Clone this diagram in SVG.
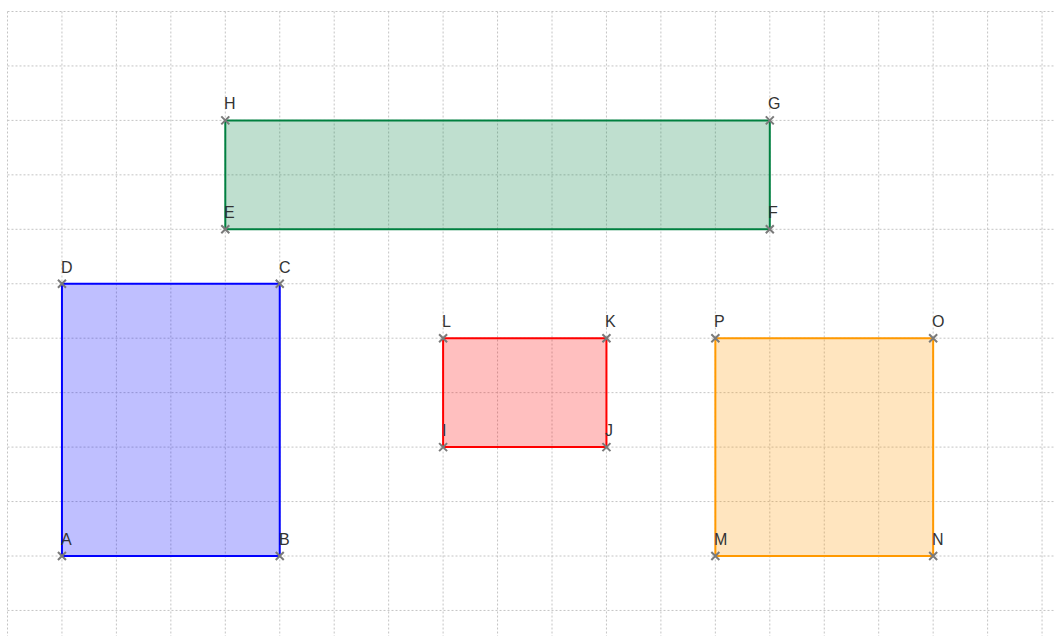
<svg xmlns="http://www.w3.org/2000/svg" width="1054" height="636" viewBox="0 0 1054 636">
<style>
.grid line{stroke:#c4c4c4;stroke-width:1;stroke-dasharray:2,2}
.lbl{font-family:"Liberation Sans",Arial,sans-serif;font-size:16px;fill:#333}
.pt{stroke:#7a7a7a;stroke-width:2;fill:none}
.blue{fill:#0000ff;fill-opacity:0.25;stroke:#0000ff;stroke-width:2}
.green{fill:#008040;fill-opacity:0.25;stroke:#008040;stroke-width:2}
.red{fill:#ff0000;fill-opacity:0.25;stroke:#ff0000;stroke-width:2}
.orange{fill:#ff9900;fill-opacity:0.25;stroke:#ff9900;stroke-width:2}
</style>
<defs>
<path id="x" d="M-4,-4L4,4M-4,4L4,-4" class="pt"/>
</defs>
<rect width="1054" height="636" fill="#fff"/>
<g class="grid">
<line x1="7.5" y1="11.5" x2="7.5" y2="636"/>
<line x1="61.95" y1="11.5" x2="61.95" y2="636"/>
<line x1="116.4" y1="11.5" x2="116.4" y2="636"/>
<line x1="170.85" y1="11.5" x2="170.85" y2="636"/>
<line x1="225.3" y1="11.5" x2="225.3" y2="636"/>
<line x1="279.75" y1="11.5" x2="279.75" y2="636"/>
<line x1="334.2" y1="11.5" x2="334.2" y2="636"/>
<line x1="388.65" y1="11.5" x2="388.65" y2="636"/>
<line x1="443.1" y1="11.5" x2="443.1" y2="636"/>
<line x1="497.55" y1="11.5" x2="497.55" y2="636"/>
<line x1="552" y1="11.5" x2="552" y2="636"/>
<line x1="606.45" y1="11.5" x2="606.45" y2="636"/>
<line x1="660.9" y1="11.5" x2="660.9" y2="636"/>
<line x1="715.35" y1="11.5" x2="715.35" y2="636"/>
<line x1="769.8" y1="11.5" x2="769.8" y2="636"/>
<line x1="824.25" y1="11.5" x2="824.25" y2="636"/>
<line x1="878.7" y1="11.5" x2="878.7" y2="636"/>
<line x1="933.15" y1="11.5" x2="933.15" y2="636"/>
<line x1="987.6" y1="11.5" x2="987.6" y2="636"/>
<line x1="1042.05" y1="11.5" x2="1042.05" y2="636"/>
<line x1="7.5" y1="11.5" x2="1054" y2="11.5"/>
<line x1="7.5" y1="65.95" x2="1054" y2="65.95"/>
<line x1="7.5" y1="120.4" x2="1054" y2="120.4"/>
<line x1="7.5" y1="174.85" x2="1054" y2="174.85"/>
<line x1="7.5" y1="229.3" x2="1054" y2="229.3"/>
<line x1="7.5" y1="283.75" x2="1054" y2="283.75"/>
<line x1="7.5" y1="338.2" x2="1054" y2="338.2"/>
<line x1="7.5" y1="392.65" x2="1054" y2="392.65"/>
<line x1="7.5" y1="447.1" x2="1054" y2="447.1"/>
<line x1="7.5" y1="501.55" x2="1054" y2="501.55"/>
<line x1="7.5" y1="556" x2="1054" y2="556"/>
<line x1="7.5" y1="610.45" x2="1054" y2="610.45"/>
</g>
<g id="rect-ABCD">
<polygon class="blue" points="61.95,556 279.75,556 279.75,283.75 61.95,283.75"/>
<use href="#x" x="61.95" y="556"/><use href="#x" x="279.75" y="556"/><use href="#x" x="279.75" y="283.75"/><use href="#x" x="61.95" y="283.75"/>
<text class="lbl" x="61" y="545">A</text><text class="lbl" x="279" y="545">B</text><text class="lbl" x="279" y="273">C</text><text class="lbl" x="61" y="273">D</text>
</g>
<g id="rect-EFGH">
<polygon class="green" points="225.3,229.3 769.8,229.3 769.8,120.4 225.3,120.4"/>
<use href="#x" x="225.3" y="229.3"/><use href="#x" x="769.8" y="229.3"/><use href="#x" x="769.8" y="120.4"/><use href="#x" x="225.3" y="120.4"/>
<text class="lbl" x="224" y="218">E</text><text class="lbl" x="768" y="218">F</text><text class="lbl" x="768" y="109">G</text><text class="lbl" x="224" y="109">H</text>
</g>
<g id="rect-IJKL">
<polygon class="red" points="443.1,447.1 606.45,447.1 606.45,338.2 443.1,338.2"/>
<use href="#x" x="443.1" y="447.1"/><use href="#x" x="606.45" y="447.1"/><use href="#x" x="606.45" y="338.2"/><use href="#x" x="443.1" y="338.2"/>
<text class="lbl" x="442" y="436">I</text><text class="lbl" x="605" y="436">J</text><text class="lbl" x="605" y="327">K</text><text class="lbl" x="442" y="327">L</text>
</g>
<g id="rect-MNOP">
<polygon class="orange" points="715.35,556 933.15,556 933.15,338.2 715.35,338.2"/>
<use href="#x" x="715.35" y="556"/><use href="#x" x="933.15" y="556"/><use href="#x" x="933.15" y="338.2"/><use href="#x" x="715.35" y="338.2"/>
<text class="lbl" x="714" y="545">M</text><text class="lbl" x="932" y="545">N</text><text class="lbl" x="932" y="327">O</text><text class="lbl" x="714" y="327">P</text>
</g>
</svg>
